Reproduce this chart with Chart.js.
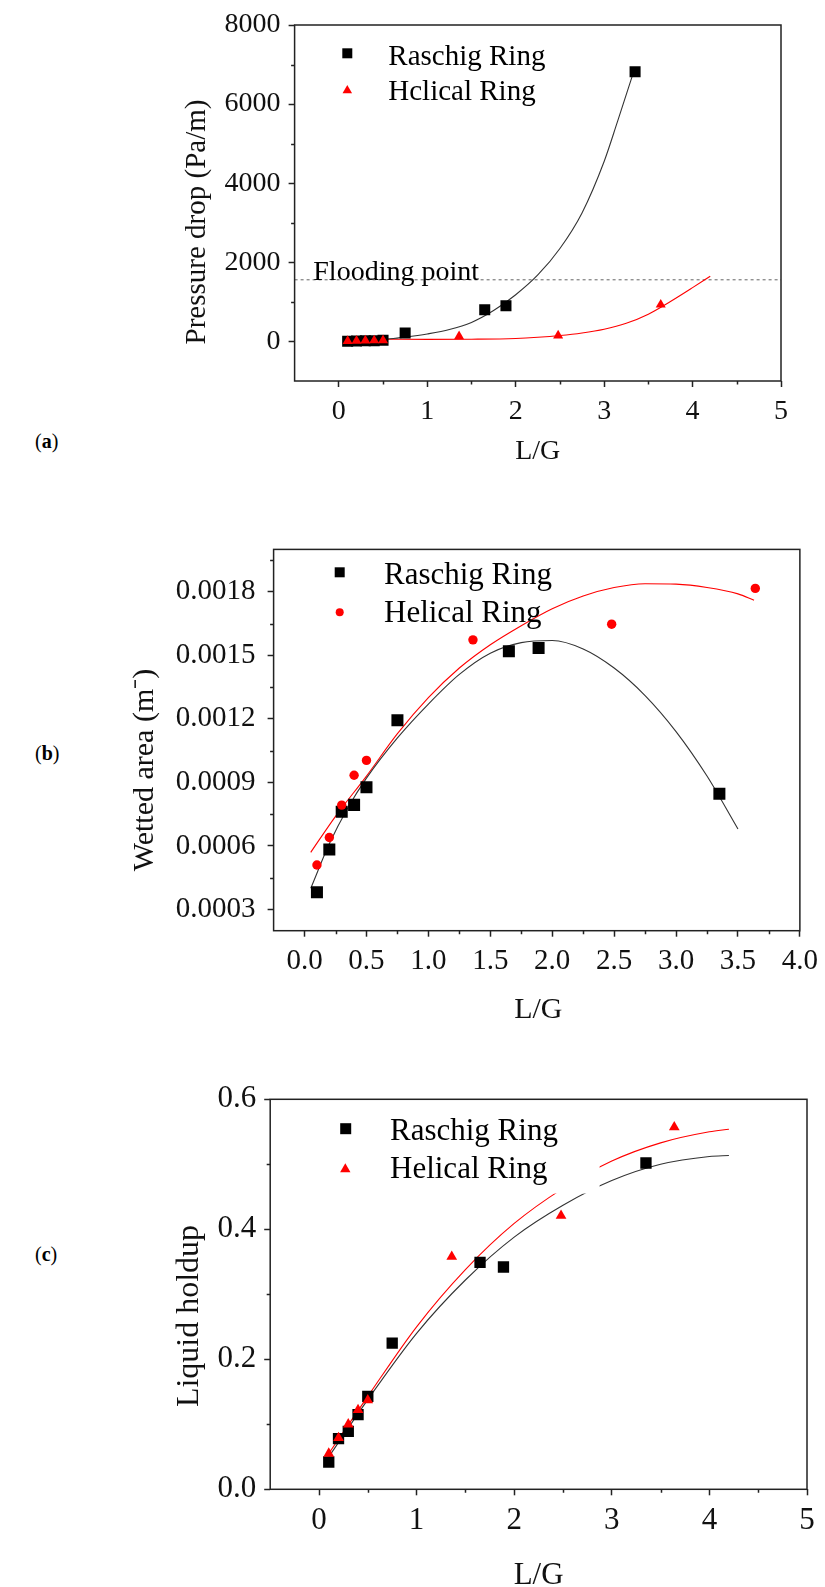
<!DOCTYPE html>
<html>
<head>
<meta charset="utf-8">
<script src="https://cdn.jsdelivr.net/npm/chart.js@4.4.1/dist/chart.umd.min.js"></script>
<style>
    html, body { margin: 0; padding: 0; background: #fff; }
    #page { position: relative; width: 825px; height: 1587px; overflow: hidden; }
    #page canvas { position: absolute; left: 0; }
    .tag { position: absolute; left: 35px; font: 20px "Liberation Serif", serif; color: #000; }
</style>
</head>
<body>
<div id="page">
    <div class="tag" style="top:430px">(<b>a</b>)</div>
    <div class="tag" style="top:742px">(<b>b</b>)</div>
    <div class="tag" style="top:1243px">(<b>c</b>)</div>
    <canvas id="chart-a" width="825" height="520" style="top:0"></canvas>
    <canvas id="chart-b" width="825" height="520" style="top:520px"></canvas>
    <canvas id="chart-c" width="825" height="547" style="top:1040px"></canvas>
</div>
<script>
// L/G values of the measured points (same in all three panels)
const raschigLG = [0.1, 0.2, 0.3, 0.4, 0.5, 0.75, 1.65, 1.89, 3.35];
const helicalLG = [0.1, 0.2, 0.3, 0.4, 0.5, 1.36, 2.48, 3.64];

// (a) pressure drop, Pa/m
const seriesNamesA = ['Raschig Ring', 'Hclical Ring'];
const raschigDrop = [5, 10, 15, 20, 30, 213, 804, 905, 6817];
const helicalDrop = [10, 15, 20, 25, 30, 130, 150, 929];
const raschigDropFitLG = [0.55, 0.75, 1.0, 1.25, 1.5, 1.75, 2.0, 2.25, 2.5, 2.75, 3.0, 3.15, 3.34];
const raschigDropFit = [60, 110, 190, 300, 480, 780, 1180, 1680, 2350, 3250, 4550, 5550, 6860];
const helicalDropFitLG = [0.55, 1.0, 1.5, 2.0, 2.25, 2.5, 2.75, 3.0, 3.25, 3.5, 3.75, 4.0, 4.2];
const helicalDropFit = [55, 52, 56, 75, 105, 150, 215, 310, 460, 690, 1010, 1360, 1650];
const floodingDrop = 1560;
const floodingLabel = 'Flooding point';
const dropTicks = [0, 2000, 4000, 6000, 8000];
const dropTickLabels = ['0', '2000', '4000', '6000', '8000'];
const dropMinor = [1000, 3000, 5000, 7000];
const lgTicksA = [0, 1, 2, 3, 4, 5];
const lgTickLabelsA = ['0', '1', '2', '3', '4', '5'];
const lgMinorA = [0.5, 1.5, 2.5, 3.5, 4.5];

// (b) wetted area
const seriesNames = ['Raschig Ring', 'Helical Ring'];
const raschigWet = [0.000382, 0.000583, 0.000761, 0.000794, 0.000877, 0.001194, 0.001519, 0.001534, 0.000846];
const helicalWet = [0.00051, 0.00064, 0.000793, 0.000934, 0.001004, 0.001573, 0.001647, 0.001816];
const raschigWetFitLG = [0.05, 0.2, 0.35, 0.5, 0.75, 1.0, 1.25, 1.5, 1.75, 2.0, 2.25, 2.5, 2.75, 3.0, 3.25, 3.5];
const raschigWetFit = [0.0004, 0.00061, 0.00078, 0.00092, 0.00111, 0.00127, 0.00141, 0.00151, 0.00156, 0.00157, 0.00153, 0.00144, 0.00131, 0.00114, 0.00093, 0.00068];
const helicalWetFitLG = [0.05, 0.25, 0.5, 0.75, 1.0, 1.25, 1.5, 1.75, 2.0, 2.25, 2.5, 2.75, 3.0, 3.25, 3.5, 3.63];
const helicalWetFit = [0.00057, 0.00074, 0.00093, 0.00113, 0.0013, 0.00144, 0.00155, 0.00164, 0.00172, 0.00178, 0.00182, 0.001838, 0.001836, 0.00182, 0.00179, 0.00176];
const wetTicks = [0.0003, 0.0006, 0.0009, 0.0012, 0.0015, 0.0018];
const wetTickLabels = ['0.0003', '0.0006', '0.0009', '0.0012', '0.0015', '0.0018'];
const wetMinor = [0.00045, 0.00075, 0.00105, 0.00135, 0.00165, 0.00195];
const lgTicksB = [0, 0.5, 1, 1.5, 2, 2.5, 3, 3.5, 4];
const lgTickLabelsB = ['0.0', '0.5', '1.0', '1.5', '2.0', '2.5', '3.0', '3.5', '4.0'];
const lgMinorB = [0.25, 0.75, 1.25, 1.75, 2.25, 2.75, 3.25, 3.75];

// (c) liquid holdup
const raschigHold = [0.042, 0.078, 0.089, 0.115, 0.143, 0.225, 0.349, 0.342, 0.502];
const helicalHold = [0.055, 0.079, 0.1, 0.122, 0.137, 0.358, 0.421, 0.557];
const raschigHoldFitLG = [0.1, 0.5, 1.0, 1.5, 2.0, 2.5, 3.0, 3.5, 4.0, 4.2];
const raschigHoldFit = [0.05, 0.138, 0.24, 0.322, 0.388, 0.437, 0.475, 0.5, 0.512, 0.5135];
const helicalHoldFitLG = [0.1, 0.5, 1.0, 1.5, 2.0, 2.5, 3.0, 3.5, 4.0, 4.2];
const helicalHoldFit = [0.055, 0.143, 0.25, 0.338, 0.409, 0.463, 0.505, 0.533, 0.55, 0.554];
const holdTicks = [0, 0.2, 0.4, 0.6];
const holdTickLabels = ['0.0', '0.2', '0.4', '0.6'];
const holdMinor = [0.1, 0.3, 0.5];

const SERIF = '"Liberation Serif", "Times New Roman", serif';
const RED = '#ff0000';
const INK = '#111';

const pts = (xs, ys) => xs.map((x, i) => ({ x: x, y: ys[i] }));

function drawMarker(ctx, shape, x, y, size, color) {
    ctx.fillStyle = color;
    ctx.beginPath();
    if (shape === 'rect') {
        ctx.rect(x - size / 2, y - size / 2, size, size);
    } else if (shape === 'triangle') {
        ctx.moveTo(x, y - size);
        ctx.lineTo(x + size * 0.866, y + size / 2);
        ctx.lineTo(x - size * 0.866, y + size / 2);
        ctx.closePath();
    } else {
        ctx.arc(x, y, size, 0, Math.PI * 2);
    }
    ctx.fill();
}

// frame, minor ticks, titles, in-plot legend
const panelDecor = {
    id: 'panelDecor',
    afterDatasetsDraw(chart, args, opts) {
        const { ctx, chartArea: a, scales } = chart;
        ctx.save();
        if (opts.mask) {
            // legend box in (c) has a white fill that cuts the fit lines
            const mx = scales.x.getPixelForValue(opts.mask.x);
            const my = scales.y.getPixelForValue(opts.mask.y);
            ctx.fillStyle = '#fff';
            ctx.fillRect(a.left + 1, a.top + 1, mx - a.left - 1, my - a.top - 1);
        }
        ctx.font = `${opts.legendSize}px ${SERIF}`;
        ctx.textAlign = 'left';
        ctx.textBaseline = 'alphabetic';
        opts.legend.forEach(item => {
            const ds = chart.data.datasets[item.dataset];
            drawMarker(ctx, item.shape, item.mx, item.my, item.size, ds.backgroundColor);
            ctx.fillStyle = '#000';
            ctx.fillText(ds.label, opts.legendX, item.base);
        });
        if (opts.note) {
            ctx.font = `${opts.note.size}px ${SERIF}`;
            ctx.fillStyle = '#000';
            ctx.fillText(opts.note.text, opts.note.x, opts.note.base);
        }
        ctx.restore();
    },
    afterDraw(chart, args, opts) {
        const { ctx, chartArea: a, scales } = chart;
        ctx.save();
        ctx.strokeStyle = '#222';
        ctx.lineWidth = 1.5;
        ctx.strokeRect(a.left, a.top, a.right - a.left, a.bottom - a.top);

        ctx.beginPath();
        opts.minorX.forEach(v => {
            const px = Math.round(scales.x.getPixelForValue(v)) + 0.5;
            ctx.moveTo(px, a.bottom);
            ctx.lineTo(px, a.bottom + 3.5);
        });
        opts.minorY.forEach(v => {
            const py = Math.round(scales.y.getPixelForValue(v)) + 0.5;
            ctx.moveTo(a.left - 3.5, py);
            ctx.lineTo(a.left, py);
        });
        ctx.stroke();

        ctx.fillStyle = INK;
        ctx.textAlign = 'center';
        ctx.textBaseline = 'middle';
        const xt = opts.xTitle;
        ctx.font = `${xt.size}px ${SERIF}`;
        ctx.fillText(xt.text, xt.cx, xt.cy);

        const yt = opts.yTitle;
        ctx.font = `${yt.size}px ${SERIF}`;
        ctx.translate(yt.cx, yt.cy);
        ctx.rotate(-Math.PI / 2);
        ctx.fillText(yt.text, 0, 0);
        ctx.restore();
    }
};

function axis(spec, isX, area, height) {
    return {
        type: 'linear',
        min: spec.min,
        max: spec.max,
        afterFit: (s) => {
            if (isX) s.height = height - area.bottom;
            else s.width = area.left;
        },
        afterBuildTicks: (s) => {
            s.ticks = spec.ticks.map(v => ({ value: v }));
        },
        border: { display: false },
        grid: { drawOnChartArea: false, drawTicks: true, tickLength: 6, tickWidth: 1.5, tickColor: '#222' },
        ticks: {
            autoSkip: false,
            maxRotation: 0,
            padding: spec.pad,
            color: INK,
            font: { family: 'Liberation Serif', size: spec.font },
            callback: (v, i) => spec.labels[i]
        }
    };
}

function makePanel(id, cfg) {
    const canvas = document.getElementById(id);
    const area = cfg.area;
    return new Chart(canvas, {
        type: 'scatter',
        data: { datasets: cfg.datasets },
        options: {
            responsive: false,
            animation: false,
            devicePixelRatio: 1,
            layout: { padding: { left: 0, top: area.top, right: canvas.width - area.right, bottom: 0 } },
            plugins: {
                legend: { display: false },
                tooltip: { enabled: false },
                panelDecor: cfg.decor
            },
            scales: {
                x: axis(cfg.x, true, area, canvas.height),
                y: axis(cfg.y, false, area, canvas.height)
            }
        },
        plugins: [panelDecor]
    });
}

function markers(label, data, shape, radius, color, order) {
    return {
        label: label, data: data, pointStyle: shape, pointRadius: radius,
        backgroundColor: color, borderColor: color, borderWidth: 0, showLine: false, order: order
    };
}

function fitLine(data, color, order) {
    return {
        data: data, showLine: true, pointRadius: 0, borderColor: color, backgroundColor: color,
        borderWidth: 1.1, cubicInterpolationMode: 'monotone', order: order
    };
}

window.addEventListener('DOMContentLoaded', () => {
    makePanel('chart-a', {
        area: { left: 294.6, top: 25, right: 781, bottom: 381 },
        x: { min: -0.5, max: 5, ticks: lgTicksA, labels: lgTickLabelsA, font: 28, pad: 8 },
        y: { min: -1000, max: 8000, ticks: dropTicks, labels: dropTickLabels, font: 28, pad: 8 },
        datasets: [
            markers(seriesNamesA[0], pts(raschigLG, raschigDrop), 'rect', 7.8, '#000', 1),
            markers(seriesNamesA[1], pts(helicalLG, helicalDrop), 'triangle', 5.8, RED, 0),
            fitLine(pts(raschigDropFitLG, raschigDropFit), '#333', 2),
            fitLine(pts(helicalDropFitLG, helicalDropFit), RED, 3),
            {
                data: [{ x: -0.5, y: floodingDrop }, { x: 5, y: floodingDrop }], showLine: true, pointRadius: 0,
                borderColor: '#888', borderWidth: 1.3, borderDash: [3, 3], order: 4
            }
        ],
        decor: {
            minorX: lgMinorA, minorY: dropMinor,
            xTitle: { text: 'L/G', cx: 537.7, cy: 452, size: 28 },
            yTitle: { text: 'Pressure drop (Pa/m)', cx: 197.7, cy: 222, size: 29 },
            legendX: 388.3, legendSize: 29,
            legend: [
                { dataset: 0, shape: 'rect', mx: 347.3, my: 53.3, size: 10, base: 65 },
                { dataset: 1, shape: 'triangle', mx: 347.3, my: 90.5, size: 5.5, base: 100 }
            ],
            note: { text: floodingLabel, x: 313.3, base: 280, size: 28 }
        }
    });

    makePanel('chart-b', {
        area: { left: 273.6, top: 24, right: 803, bottom: 410.7 },
        x: { min: -0.25, max: 4, ticks: lgTicksB, labels: lgTickLabelsB, font: 29, pad: 7 },
        y: { min: 0.0002, max: 0.002, ticks: wetTicks, labels: wetTickLabels, font: 29, pad: 12 },
        datasets: [
            markers(seriesNames[0], pts(raschigLG, raschigWet), 'rect', 8.5, '#000', 1),
            markers(seriesNames[1], pts(helicalLG, helicalWet), 'circle', 4.7, RED, 0),
            fitLine(pts(raschigWetFitLG, raschigWetFit), '#333', 2),
            fitLine(pts(helicalWetFitLG, helicalWetFit), RED, 3)
        ],
        decor: {
            minorX: lgMinorB, minorY: wetMinor,
            xTitle: { text: 'L/G', cx: 538.3, cy: 490, size: 30 },
            yTitle: { text: 'Wetted area (m\u207B)', cx: 145, cy: 250, size: 30 },
            legendX: 384, legendSize: 31,
            legend: [
                { dataset: 0, shape: 'rect', mx: 339.7, my: 52.3, size: 10, base: 64 },
                { dataset: 1, shape: 'circle', mx: 339.7, my: 92.2, size: 4, base: 101.7 }
            ]
        }
    });

    makePanel('chart-c', {
        area: { left: 270.2, top: 59.3, right: 807, bottom: 449.3 },
        x: { min: -0.5, max: 5, ticks: lgTicksA, labels: lgTickLabelsA, font: 31, pad: 7 },
        y: { min: 0, max: 0.6, ticks: holdTicks, labels: holdTickLabels, font: 31, pad: 8 },
        datasets: [
            markers(seriesNames[0], pts(raschigLG, raschigHold), 'rect', 8, '#000', 1),
            markers(seriesNames[1], pts(helicalLG, helicalHold), 'triangle', 6.2, RED, 0),
            fitLine(pts(raschigHoldFitLG, raschigHoldFit), '#333', 2),
            fitLine(pts(helicalHoldFitLG, helicalHoldFit), RED, 3)
        ],
        decor: {
            minorX: lgMinorA, minorY: holdMinor,
            mask: { x: 2.875, y: 0.455 },
            xTitle: { text: 'L/G', cx: 538.6, cy: 536, size: 31 },
            yTitle: { text: 'Liquid holdup', cx: 189.4, cy: 276, size: 32 },
            legendX: 390, legendSize: 31,
            legend: [
                { dataset: 0, shape: 'rect', mx: 345.7, my: 88.7, size: 11, base: 100 },
                { dataset: 1, shape: 'triangle', mx: 345.3, my: 129.3, size: 6, base: 138.3 }
            ]
        }
    });
});
</script>
</body>
</html>
